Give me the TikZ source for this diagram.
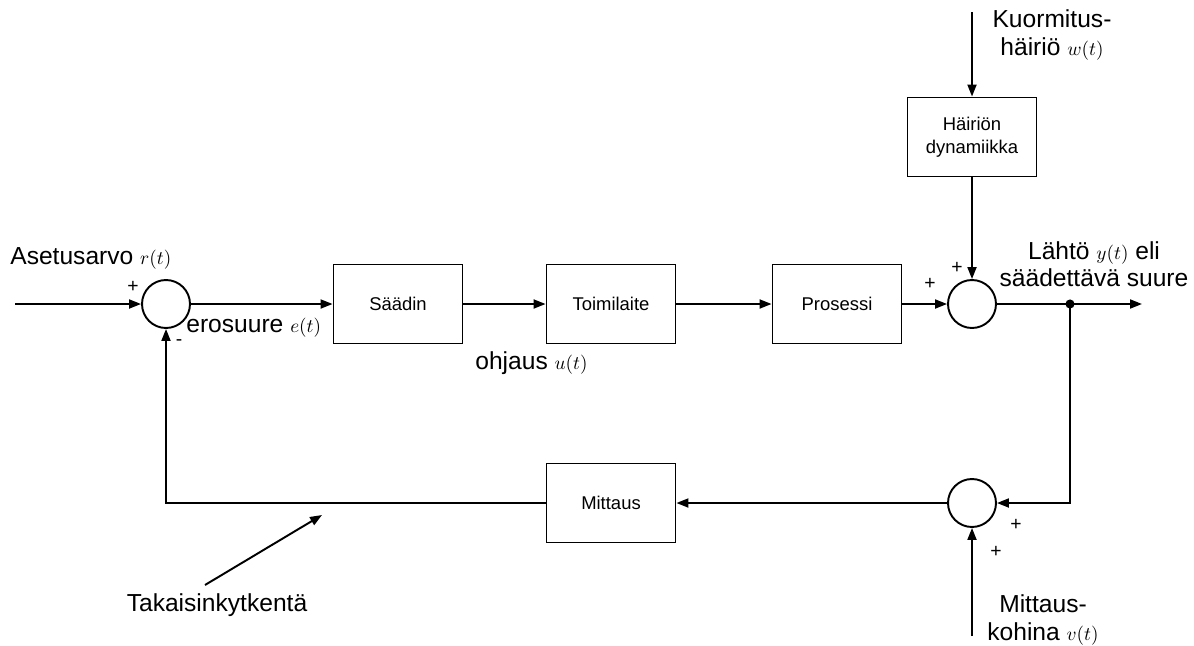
\documentclass[tikz,border=0pt]{standalone}
\usepackage{fontspec}
\setmainfont{Liberation Sans}
\usetikzlibrary{arrows.meta,positioning}
\newcommand{\sgn}[1]{{\fontsize{11}{11}\selectfont$#1$}}

\begin{document}
\begin{tikzpicture}[x=0.02cm,y=-0.02cm,
 blok/.style={draw,line width=1.1pt,minimum width=2.58cm,minimum height=1.58cm,align=center,font=\fontsize{10.5}{13}\selectfont},
 summa/.style={draw,circle,line width=1.1pt,minimum size=0.96cm,inner sep=0pt},
 nuoli/.style={line width=1.1pt,-{Triangle[length=2.4mm,width=1.8mm]}},
 teksti/.style={inner sep=0pt,align=center,font=\fontsize{14}{15.5}\selectfont},
 merkki/.style={inner sep=0pt,font=\fontsize{11}{11}\selectfont}]
\useasboundingbox (0,0) rectangle (1194,646);
% lohkot ja summauspisteet
\node[summa] (s1) at (166,304) {};
\node[blok] (saadin) at (398,304) {Säädin};
\node[blok] (toimi) at (611,304) {Toimilaite};
\node[blok] (prosessi) at (837,304) {Prosessi};
\node[summa] (s2) at (972,304) {};
\node[blok] (hairio) at (972,137) {Häiriön\\dynamiikka};
\node[summa] (s3) at (972,503) {};
\node[blok] (mittaus) at (611,503) {Mittaus};
\coordinate (tulo) at (15,304);
\coordinate (kuorma) at (972,12);
\coordinate (haara) at (1070,304);
\coordinate (lahto) at (1142,304);
\coordinate (kohina) at (972,636);
\coordinate (osoitin) at (205,585);
\coordinate (kytkenta) at (322,515);
% signaalit
\draw[nuoli] (tulo) -- (s1);
\draw[nuoli] (s1) -- (saadin);
\draw[nuoli] (saadin) -- (toimi);
\draw[nuoli] (toimi) -- (prosessi);
\draw[nuoli] (prosessi) -- (s2);
\draw[nuoli] (kuorma) -- (hairio);
\draw[nuoli] (hairio) -- (s2);
\draw[nuoli] (s2) -- (lahto);
\fill (haara) circle (2.6pt);
\draw[nuoli] (haara) |- (s3);
\draw[nuoli] (kohina) -- (s3);
\draw[nuoli] (s3) -- (mittaus);
\draw[nuoli] (mittaus) -| (s1);
\draw[nuoli] (osoitin) -- (kytkenta);
% etumerkit
\node[merkki] (p1) at (133,287) {+};
\node[merkki] (m1) at (179,343) {-};
\node[merkki] (p2) at (957,268) {+};
\node[merkki] (p3) at (930,284) {+};
\node[merkki] (p4) at (1016,525) {+};
\node[merkki] (p5) at (996,552) {+};
% tekstit
\node[teksti,anchor=west] (asetus) at (10,258) {Asetusarvo \sgn{r(t)}};
\node[teksti,anchor=west] (ero) at (186,328) {erosuure \sgn{e(t)}};
\node[teksti,anchor=west] (ohjaus) at (475,363) {ohjaus \sgn{u(t)}};
\node[teksti] (kuorm) at (1052,35) {Kuormitus-\\häiriö \sgn{w(t)}};
\node[teksti] (lahtoteksti) at (1094,264) {Lähtö \sgn{y(t)} eli\\säädettävä suure};
\node[teksti] (kohinateksti) at (1043,620) {Mittaus-\\kohina \sgn{v(t)}};
\node[teksti] (takaisin) at (217,605) {Takaisinkytkentä};
\end{tikzpicture}
\end{document}
